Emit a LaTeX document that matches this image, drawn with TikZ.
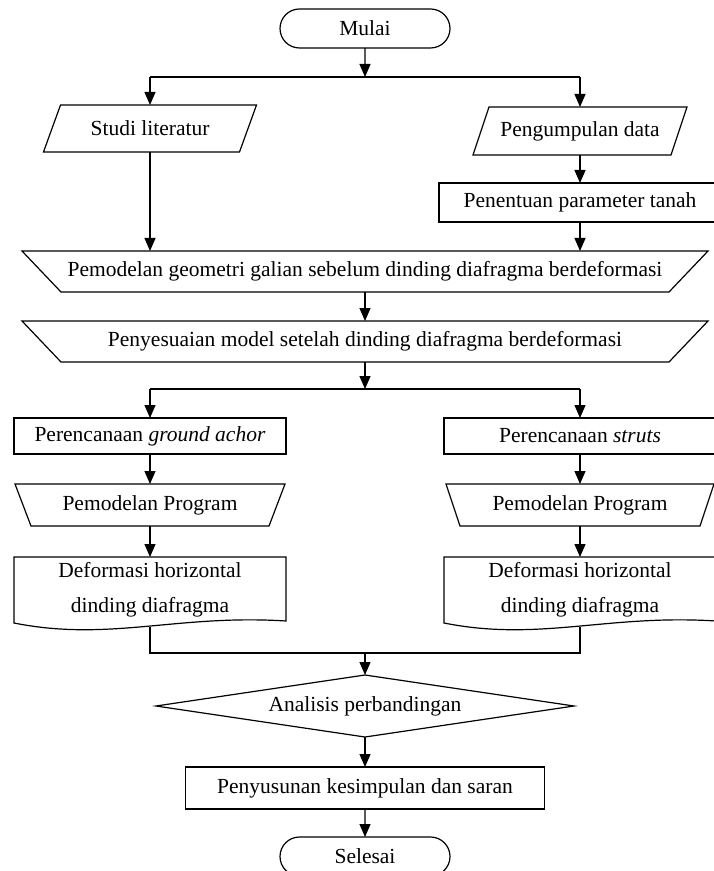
\documentclass[tikz,border=0pt]{standalone}
\usepackage{fontspec}
\setmainfont{Liberation Serif}
\usetikzlibrary{shapes.misc,arrows.meta,calc}
\newcommand\fs{\fontsize{10.75}{17.5}\selectfont}
\tikzset{
  px/.style 2 args={minimum width=#1*0.5pt, minimum height=#2*0.5pt},
  base/.style={inner sep=0pt, outer sep=0pt, font=\fs, align=center},
  outline/.style={draw=black, line width=0.6pt, line join=miter},
  ln/.style={line width=0.6pt},
  arr/.style={line width=0.6pt, -{Triangle[length=6.5pt,width=5.5pt]}},
  term/.style={base, rounded rectangle, draw=black, line width=0.6pt},
  rbox/.style={base, draw=black, line width=0.6pt},
}
% parallelogram outline around node #1 with slant #2 (px)
\newcommand\paraoutline[2]{\draw[outline] ($(#1.north west)+(#2,0)$) -- (#1.north east) -- ($(#1.south east)+(-#2,0)$) -- (#1.south west) -- cycle;}
% manual operation outline (wide top) around node #1 with inset #2 (px)
\newcommand\manualoutline[2]{\draw[outline] (#1.north west) -- (#1.north east) -- ($(#1.south east)+(-#2,0)$) -- ($(#1.south west)+(#2,0)$) -- cycle;}
% document outline around node #1 with width #2 (px)
\newcommand\docoutline[2]{\draw[outline] (#1.south west) -- (#1.north west) -- (#1.north east) -- ($(#1.south east)+(0,-2)$) .. controls ($(#1.south west)+(0.6*#2,-9)$) and ($(#1.south west)+(0.35*#2,19)$) .. (#1.south west) -- cycle;}
\begin{document}
\begin{tikzpicture}[x=0.5pt,y=-0.5pt]
\useasboundingbox (0,0) rectangle (713,871);

% nodes
\node[term, px={170}{39}] (start) at (365,28.5) {Mulai};
\node[base, px={213}{47}] (studi) at (150,128.5) {Studi literatur};
\paraoutline{studi}{17}
\node[base, px={214}{48}] (data) at (580,131) {Pengumpulan data};
\paraoutline{data}{16}
\node[rbox, px={282}{39}] (param) at (580,202.5) {Penentuan parameter tanah};
\node[base, px={686}{41}] (geo) at (365,271.5) {Pemodelan geometri galian sebelum dinding diafragma berdeformasi};
\manualoutline{geo}{39}
\node[base, px={686}{41}] (sesuai) at (365,341.5) {Penyesuaian model setelah dinding diafragma berdeformasi};
\manualoutline{sesuai}{39}
\node[rbox, px={272}{36}] (anchor) at (150,436) {Perencanaan \textit{ground achor}};
\node[rbox, px={272}{36}] (struts) at (580,436) {Perencanaan \textit{struts}};
\node[base, px={270}{42}] (prog1) at (150,505) {Pemodelan Program};
\manualoutline{prog1}{16}
\node[base, px={268}{42}] (prog2) at (580,505) {Pemodelan Program};
\manualoutline{prog2}{14}
\node[base, px={272}{66}] (doc1) at (150,590) {Deformasi horizontal\\dinding diafragma};
\docoutline{doc1}{272}
\node[base, px={272}{66}] (doc2) at (580,590) {Deformasi horizontal\\dinding diafragma};
\docoutline{doc2}{272}
\node[base, px={418}{62}] (dec) at (365,706) {Analisis perbandingan};
\draw[outline] (dec.north) -- (dec.east) -- (dec.south) -- (dec.west) -- cycle;
\node[rbox, px={359}{42}] (sum) at (365,788) {Penyusunan kesimpulan dan saran};
\node[term, px={170}{39}] (end) at (365,856.5) {Selesai};

% helper coordinates
\coordinate (split1) at (365,77);
\coordinate (split2) at (365,389);
\coordinate (merge) at (365,653);
\coordinate (doc1b) at ($(doc1.south)+(0,3.5)$);
\coordinate (doc2b) at ($(doc2.south)+(0,3.5)$);

% connectors
\draw[arr] (start) -- (split1);
\draw[ln] (studi.north |- split1) -- (data.north |- split1);
\draw[arr] (studi.north |- split1) -- (studi.north);
\draw[arr] (data.north |- split1) -- (data.north);
\draw[arr] (data) -- (param);
\draw[arr] (param) -- (param |- geo.north);
\draw[arr] (studi) -- (studi |- geo.north);
\draw[arr] (geo) -- (sesuai);
\draw[arr] (sesuai) -- (split2);
\draw[ln] (anchor.north |- split2) -- (struts.north |- split2);
\draw[arr] (anchor.north |- split2) -- (anchor);
\draw[arr] (struts.north |- split2) -- (struts);
\draw[arr] (anchor) -- (prog1);
\draw[arr] (struts) -- (prog2);
\draw[arr] (prog1) -- (doc1);
\draw[arr] (prog2) -- (doc2);
\draw[ln] (doc1b) -- (doc1b |- merge) -- (doc2b |- merge) -- (doc2b);
\draw[arr] (merge) -- (dec);
\draw[arr] (dec) -- (sum);
\draw[arr] (sum) -- (end);
\end{tikzpicture}
\end{document}
